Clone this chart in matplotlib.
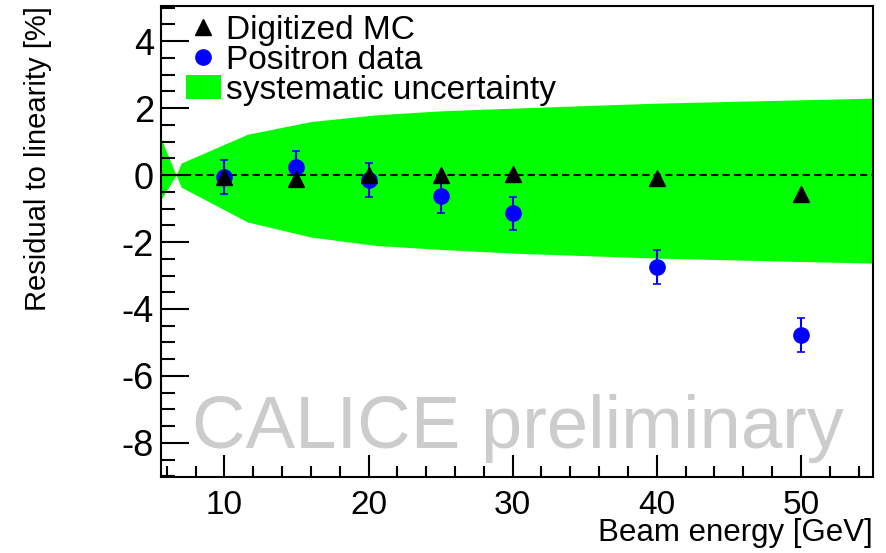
import numpy as np
import matplotlib.pyplot as plt
from matplotlib.ticker import MultipleLocator
from matplotlib.patches import Patch
from matplotlib.lines import Line2D

plt.rcParams['font.family'] = ['Liberation Sans', 'DejaVu Sans']
plt.rcParams['axes.unicode_minus'] = False

# beam energies [GeV]
energy = [10, 15, 20, 25, 30, 40, 50]
# residuals to linearity [%]
mc_resid = [-0.05, -0.12, 0.0, 0.0, 0.03, -0.1, -0.55]
data_resid = [-0.06, 0.23, -0.15, -0.62, -1.14, -2.74, -4.78]
data_err = [0.5, 0.5, 0.5, 0.5, 0.5, 0.5, 0.5]

# systematic band outline
band_e = [5.5, 6.65, 7.0, 11.6, 16.0, 20.5, 25, 30, 40, 55]
band_hi = [1.2, 0.0, 0.36, 1.22, 1.6, 1.8, 1.92, 2.0, 2.15, 2.3]
band_lo = [-0.8, 0.0, -0.36, -1.4, -1.85, -2.1, -2.22, -2.33, -2.48, -2.63]

fig = plt.figure(figsize=(8.87, 5.53), dpi=100)
ax = fig.add_axes([0.1815, 0.1374, 0.8027, 0.8516])

ax.fill_between(band_e, band_lo, band_hi, color='#00ff00', lw=0, zorder=1)
ax.axhline(0, color='black', ls=(0, (3.5, 2)), lw=1.5, zorder=2)

ax.errorbar(energy, data_resid, yerr=data_err, fmt='o', color='blue',
            ms=11, elinewidth=1.5, capsize=3, capthick=1.2, zorder=3)
ax.plot(energy, mc_resid, '^', color='black', ms=12, zorder=4)

ax.text(30.4, -8.15, 'CALICE preliminary', color='#cccccc', fontsize=53.5,
        ha='center', va='baseline', zorder=0)

ax.set_xlim(5.6, 55)
ax.set_ylim(-9.02, 5.05)
ax.xaxis.set_major_locator(MultipleLocator(10))
ax.xaxis.set_minor_locator(MultipleLocator(2))
ax.yaxis.set_major_locator(MultipleLocator(2))
ax.yaxis.set_minor_locator(MultipleLocator(0.5))
ax.tick_params(which='both', direction='in', width=1.5)
ax.tick_params(axis='y', which='major', length=20, pad=5, labelsize=26)
ax.tick_params(axis='y', which='minor', length=10)
ax.tick_params(axis='x', which='major', length=16, pad=9, labelsize=24)
ax.tick_params(axis='x', which='minor', length=8)
for s in ax.spines.values():
    s.set_linewidth(1.5)

ax.set_xlabel('Beam energy [GeV]', fontsize=22.5, loc='right', labelpad=-2)
ax.set_ylabel('Residual to linearity [%]', fontsize=21, loc='top', labelpad=50)

handles = [Line2D([], [], marker='^', color='black', ls='none', ms=12),
           Line2D([], [], marker='o', color='blue', ls='none', ms=11),
           Patch(facecolor='#00ff00', edgecolor='none')]
labels = ['Digitized MC', 'Positron data', 'systematic uncertainty']
ax.legend(handles, labels, loc='upper left', bbox_to_anchor=(0.035, 0.982),
          frameon=False, fontsize=24, handlelength=1.05, handletextpad=0.15,
          handleheight=0.7, labelspacing=-0.03, borderaxespad=0, borderpad=0)

fig.savefig('out.png', dpi=100)
